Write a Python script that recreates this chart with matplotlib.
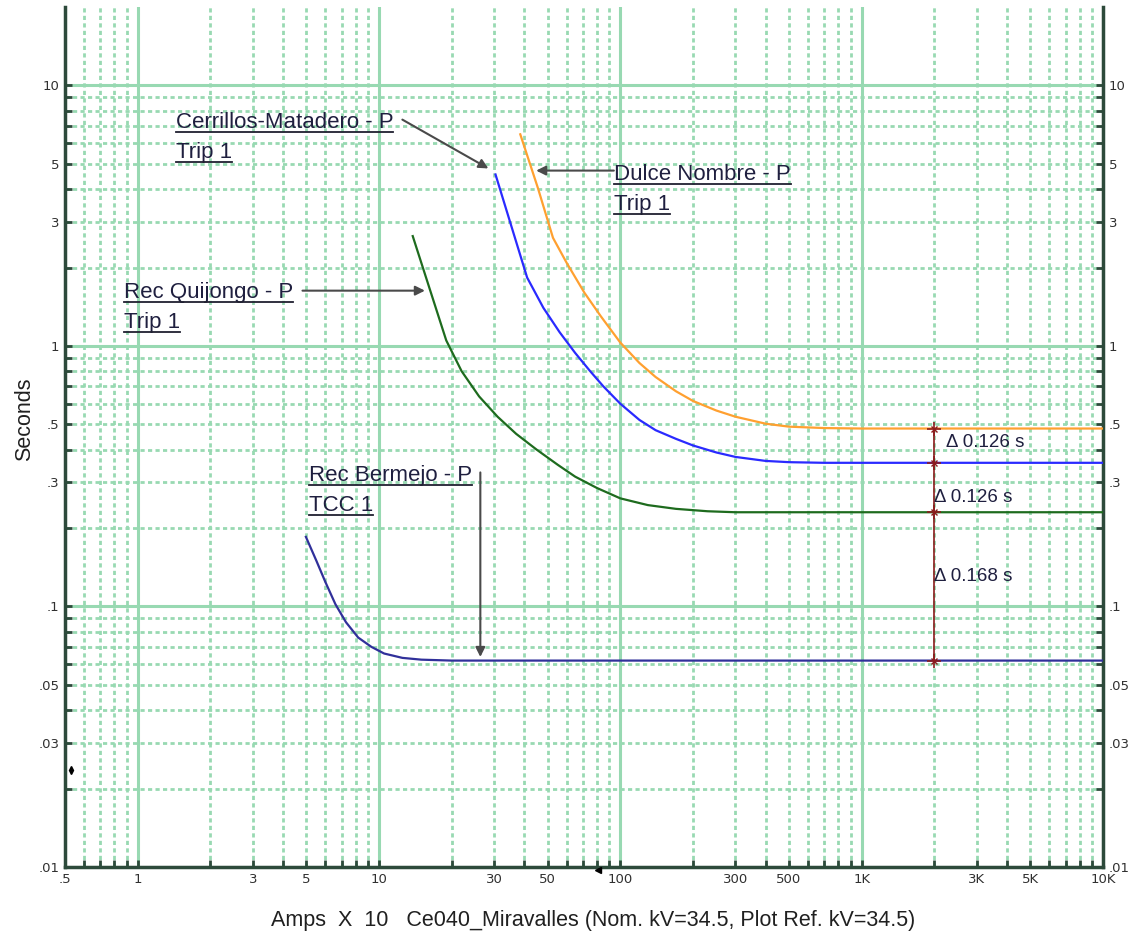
import numpy as np
import matplotlib
matplotlib.use('Agg')
import matplotlib.pyplot as plt
from matplotlib.ticker import FixedLocator, FuncFormatter
from matplotlib.lines import Line2D
from matplotlib.transforms import offset_copy

plt.rcParams['font.family'] = ['Liberation Sans', 'DejaVu Sans']

# TCC curves, amps x10 vs seconds
dulce_amps = [38.5, 45.5, 52.6, 60, 71, 83, 100, 120, 140, 170, 200, 250, 300, 400, 500, 700, 1000, 10000]
dulce_sec = [6.49, 4.05, 2.60, 2.08, 1.60, 1.30, 1.03, 0.86, 0.76, 0.67, 0.615, 0.565, 0.535, 0.503,
             0.49, 0.484, 0.482, 0.482]

cerr_amps = [30.4, 41.1, 48, 56, 65, 75, 85, 100, 120, 140, 170, 200, 250, 300, 400, 500, 700, 10000]
cerr_sec = [4.55, 1.83, 1.40, 1.13, 0.94, 0.80, 0.70, 0.60, 0.52, 0.475, 0.44, 0.415, 0.39, 0.375,
            0.362, 0.358, 0.356, 0.356]

quij_amps = [13.8, 19.0, 22, 26, 31, 37, 45, 55, 65, 80, 100, 130, 170, 230, 300, 10000]
quij_sec = [2.64, 1.05, 0.80, 0.64, 0.535, 0.46, 0.40, 0.35, 0.315, 0.285, 0.26, 0.245, 0.237,
            0.232, 0.230, 0.230]

berm_amps = [4.98, 5.5, 6.0, 6.6, 7.3, 8.2, 9.3, 10.5, 12.5, 15, 20, 10000]
berm_sec = [0.185, 0.150, 0.124, 0.102, 0.087, 0.076, 0.070, 0.066, 0.0635, 0.0625, 0.062, 0.062]

curve_colors = ['#ffa030', '#2a2aff', '#1e6b1e', '#30309a']

# coordination check at 2000 A (x10)
delta_amps = 2000
delta_levels = [0.482, 0.356, 0.230, 0.062]

x_tick_vals = [0.5, 1, 3, 5, 10, 30, 50, 100, 300, 500, 1000, 3000, 5000, 10000]
x_tick_labels = ['.5', '1', '3', '5', '10', '30', '50', '100', '300', '500', '1K', '3K', '5K', '10K']
y_tick_vals = [0.01, 0.03, 0.05, 0.1, 0.3, 0.5, 1, 3, 5, 10]
y_tick_labels = ['.01', '.03', '.05', '.1', '.3', '.5', '1', '3', '5', '10']

# device labels: text anchor, arrow tail, arrow tip
tag_lines = [['Cerrillos-Matadero - P', 'Trip 1'],
             ['Dulce Nombre - P', 'Trip 1'],
             ['Rec Quijongo - P', 'Trip 1'],
             ['Rec Bermejo - P', 'TCC 1']]
tag_text_xy = [(1.44, 6.84), (94.4, 4.33), (0.875, 1.53), (5.13, 0.304)]
tag_tail_xy = [(12.5, 7.39), (94.0, 4.71), (4.82, 1.63), (26.3, 0.327)]
tag_tip_xy = [(28.4, 4.80), (44.8, 4.71), (15.5, 1.63), (26.3, 0.064)]

cursor_marks = [(0.53, 0.0235, 'd'), (81, 0.0097, '<')]

grid_col = '#98d9b2'
frame_col = '#2d4a3b'
text_col = '#1f1f3f'

fig = plt.figure(figsize=(11.32, 9.41), dpi=100)
ax = fig.add_axes([0.0574, 0.0786, 0.917, 0.914])
ax.set_xscale('log')
ax.set_yscale('log')
ax.set_xlim(0.5, 10000)
ax.set_ylim(0.01, 20)

curves = [(dulce_amps, dulce_sec), (cerr_amps, cerr_sec),
          (quij_amps, quij_sec), (berm_amps, berm_sec)]
for (a, s), c in zip(curves, curve_colors):
    ax.plot(a, s, color=c, lw=1.6, zorder=3, solid_joinstyle='round')

# ticks & grid
decades = [1, 10, 100, 1000, 10000]
x_minor = [m * d for d in [0.1] + decades[:-1] for m in range(2, 10) if 0.5 <= m * d < 10000]
y_decades = [0.01, 0.1, 1, 10]
y_minor = [m * d for d in y_decades for m in range(2, 10) if m * d < 20]
ax.xaxis.set_major_locator(FixedLocator(decades))
ax.xaxis.set_minor_locator(FixedLocator(x_minor))
ax.yaxis.set_major_locator(FixedLocator(y_decades))
ax.yaxis.set_minor_locator(FixedLocator(y_minor))


def make_fmt(vals, labels):
    def f(v, pos):
        for tv, tl in zip(vals, labels):
            if abs(np.log10(v) - np.log10(tv)) < 1e-6:
                return tl
        return ''
    return FuncFormatter(f)


xf = make_fmt(x_tick_vals, x_tick_labels)
yf = make_fmt(y_tick_vals, y_tick_labels)
ax.xaxis.set_major_formatter(xf)
ax.xaxis.set_minor_formatter(xf)
ax.yaxis.set_major_formatter(yf)
ax.yaxis.set_minor_formatter(yf)

ax.tick_params(which='both', direction='in', length=5, width=2, color=frame_col,
               labelsize=9.5, labelcolor='#303030', right=True, labelright=True,
               labelfontfamily='Liberation Sans Narrow', pad=4)
ax.set_axisbelow(True)
ax.grid(which='major', color=grid_col, lw=2.2, ls='-')
ax.grid(which='minor', color=grid_col, lw=2.0, ls=(0, (1.5, 1.2)))

for side in ['left', 'right', 'bottom']:
    ax.spines[side].set_color(frame_col)
    ax.spines[side].set_linewidth(2.5)
ax.spines['top'].set_visible(False)

# coordination intervals
ax.plot([delta_amps] * len(delta_levels), delta_levels, color='#8b1c1c', lw=1.2,
        marker='+', ms=10, mew=1.2, zorder=4)
ax.plot([delta_amps] * len(delta_levels), delta_levels, ls='none', color='#8b1c1c',
        marker='x', ms=5, mew=1.0, zorder=4)
delta_offsets = [(12, 3), (0, -10), (0, 10)]
for hi, lo, off in zip(delta_levels[:-1], delta_levels[1:], delta_offsets):
    ax.annotate('\u0394 %.3f s' % (hi - lo), xy=(delta_amps, np.sqrt(hi * lo)),
                xytext=off, textcoords='offset pixels', va='center', ha='left',
                fontsize=13.5, color=text_col, zorder=5)

# device tags
tags = []
for lines, txy, tail, tip in zip(tag_lines, tag_text_xy, tag_tail_xy, tag_tip_xy):
    for i, s in enumerate(lines):
        tr = offset_copy(ax.transData, fig=fig, y=-30 * i, units='dots')
        t = ax.text(txy[0], txy[1], s, transform=tr, fontsize=16, color=text_col,
                    ha='left', va='baseline', zorder=5)
        tags.append(t)
    ax.annotate('', xy=tip, xytext=tail,
                arrowprops=dict(arrowstyle='-|>', color='#4a4a4a', lw=1.5,
                                mutation_scale=14, shrinkA=0, shrinkB=0), zorder=5)

for cx, cy, mk in cursor_marks:
    ax.plot(cx, cy, marker=mk, ms=4, color='k', zorder=5, clip_on=False)

fig.text(0.0221, 0.554, 'Seconds', rotation=90, ha='center', va='center',
         fontsize=15.5, color='#202020')
fig.text(0.524, 0.0223, 'Amps  X  10   Ce040_Miravalles (Nom. kV=34.5, Plot Ref. kV=34.5)',
         ha='center', va='center', fontsize=15.5, color='#202020')

# underline the tag texts
fig.canvas.draw()
inv = fig.transFigure.inverted()
for t in tags:
    bb = t.get_window_extent()
    (x0, y0), (x1, _) = inv.transform([(bb.x0, bb.y0 + 1), (bb.x1, bb.y0 + 1)])
    fig.add_artist(Line2D([x0, x1], [y0, y0], color='#202030', lw=1.3))

fig.savefig('out.png', dpi=100)
